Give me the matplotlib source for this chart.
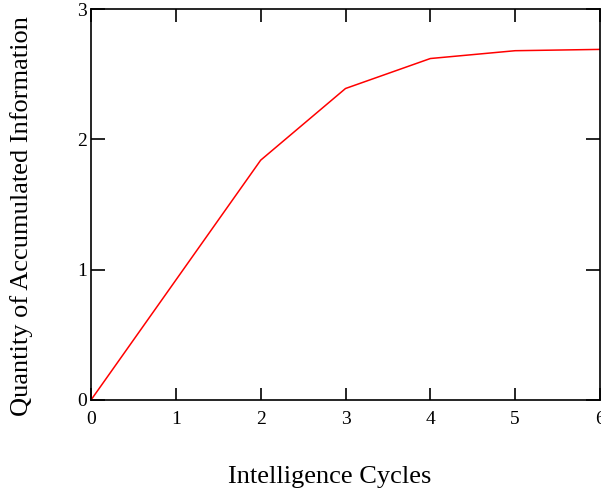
import matplotlib.pyplot as plt

cycles = [0, 1, 2, 3, 4, 5, 6]
info = [0, 0.92, 1.84, 2.39, 2.62, 2.68, 2.69]

plt.rcParams['font.family'] = ['Liberation Serif', 'DejaVu Serif']

fig = plt.figure(figsize=(6.01, 4.93), dpi=100)
ax = fig.add_axes([91 / 601, 93 / 493, 509 / 601, 391 / 493])

ax.plot(cycles, info, color='red', linewidth=1.1)

ax.set_xlim(0, 6)
ax.set_ylim(0, 3)
ax.set_xticks(range(7))
ax.set_yticks(range(4))
ax.tick_params(direction='in', top=True, right=True, labelsize=14, width=1.2)
ax.tick_params(axis='x', length=9, pad=8)
ax.tick_params(axis='y', length=10, pad=3)
for s in ax.spines.values():
    s.set_linewidth(1.2)

ax.set_xlabel('Intelligence Cycles', fontsize=19, va='center')
ax.xaxis.set_label_coords((330 - 91) / 509, -(477 - 400) / 391)
ax.set_ylabel('Quantity of Accumulated Information', fontsize=19, va='center')
ax.yaxis.set_label_coords(-(91 - 22) / 509, (400 - 216) / 391)

fig.savefig('out.png', dpi=100)
